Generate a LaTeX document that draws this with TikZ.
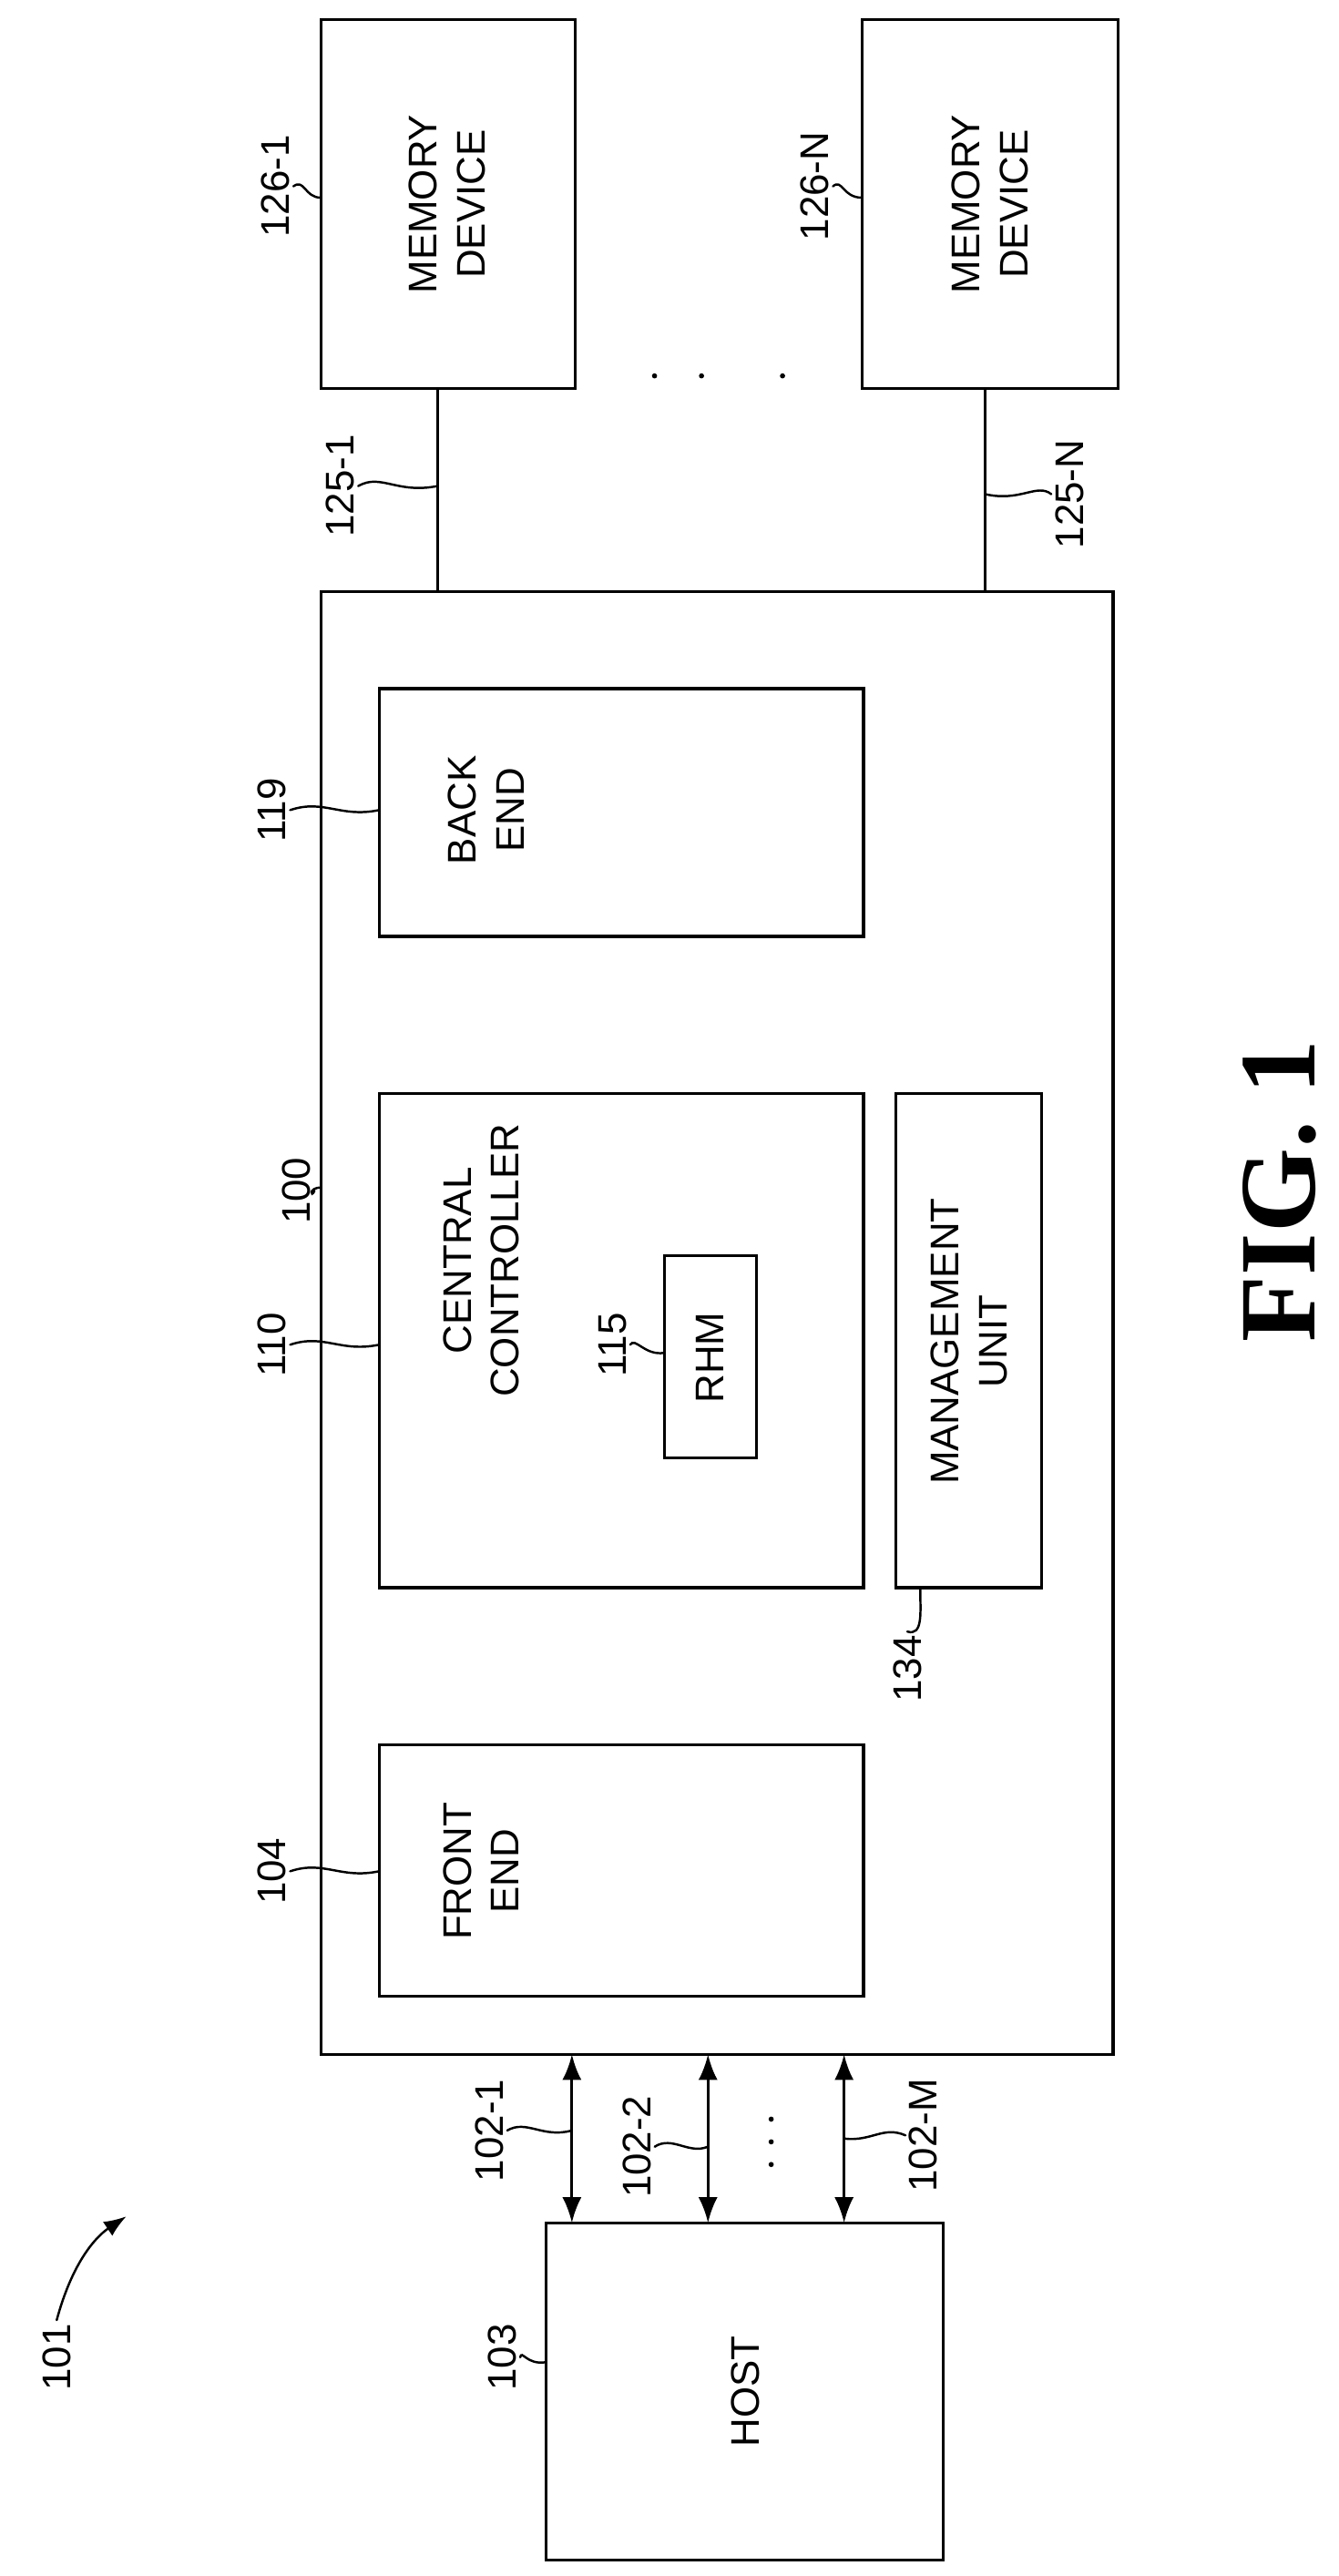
\documentclass[tikz,border=0pt]{standalone}
\usepackage{fontspec}
\setmainfont{Liberation Sans}
\newfontfamily\figfont{Liberation Serif}
\usetikzlibrary{positioning, arrows.meta}

\tikzset{
  blk/.style={draw, line width=0.9pt},
  txt/.style={rotate=90, align=center, font=\fontsize{12.5}{15}\selectfont},
  num/.style={rotate=90, font=\fontsize{12.5}{15}\selectfont, inner sep=1pt},
  lead/.style={line width=0.7pt},
  bus/.style={line width=0.9pt, {Latex[length=8pt]}-{Latex[length=8pt]}}
}

\begin{document}
\begin{tikzpicture}[x=0.0178cm, y=-0.0178cm, line cap=round]
  \useasboundingbox (0,0) rectangle (826,1590);

  % memory devices
  \draw[blk] (198,12) rectangle (355,240);
  \node[txt] (mem1) at (276,126) {MEMORY\\DEVICE};
  \draw[blk] (532,12) rectangle (690,240);
  \node[txt] (memN) at (611,126) {MEMORY\\DEVICE};
  \node[num] (l1261) at (170,115) {126-1};
  \draw[lead] (l1261.south) .. controls (188,110) and (188,122) .. (198,122);
  \node[num] (l126N) at (503,115) {126-N};
  \draw[lead] (l126N.south) .. controls (520,110) and (520,122) .. (532,122);
  \foreach \x in {404,433,483} \fill (\x,232) circle (1.6);

  % channels to memory
  \coordinate (c1t) at (270,240); \coordinate (c1b) at (270,365);
  \coordinate (cNt) at (608,240); \coordinate (cNb) at (608,365);
  \draw[blk] (c1t) -- (c1b);
  \draw[blk] (cNt) -- (cNb);
  \node[num] (l1251) at (210,300) {125-1};
  \draw[lead] (l1251.south) .. controls (235,292) and (245,305) .. (270,300);
  \node[num] (l125N) at (660,305) {125-N};
  \draw[lead] (l125N.north) .. controls (640,298) and (630,310) .. (608,305);

  % controller
  \draw[blk] (198,365) rectangle (687,1268);
  \node[num] (l100) at (183,735) {100};
  \draw[lead] (l100.south) .. controls (192,740) and (190,733) .. (198,733);

  \draw[blk] (234,425) rectangle (533,578);
  \node[txt] (back) at (300,500) {BACK\\END};
  \node[num] (l119) at (168,500) {119};
  \draw[lead] (l119.south) .. controls (200,493) and (210,505) .. (234,500);

  \draw[blk] (234,675) rectangle (533,980);
  \node[txt] (cc) at (297,778) {CENTRAL\\CONTROLLER};
  \node[num] (l110) at (168,830) {110};
  \draw[lead] (l110.south) .. controls (200,823) and (210,835) .. (234,830);

  \draw[blk] (410,775) rectangle (467,900);
  \node[txt] (rhm) at (438,838) {RHM};
  \node[num] (l115) at (378,830) {115};
  \draw[lead] (l115.south) .. controls (392,825) and (398,837) .. (410,835);

  \draw[blk] (553,675) rectangle (643,980);
  \node[txt] (mgmt) at (598,828) {MANAGEMENT\\UNIT};
  \node[num] (l134) at (560,1030) {134};
  \draw[lead] (l134.east) .. controls (570,1010) and (568,995) .. (568,980);

  \draw[blk] (234,1077) rectangle (533,1232);
  \node[txt] (front) at (297,1155) {FRONT\\END};
  \node[num] (l104) at (168,1155) {104};
  \draw[lead] (l104.south) .. controls (200,1148) and (210,1160) .. (234,1155);

  % host and buses
  \draw[blk] (337,1372) rectangle (582,1580);
  \node[txt] (host) at (460,1476) {HOST};
  \node[num] (l103) at (310,1455) {103};
  \draw[lead] (l103.south) .. controls (322,1450) and (325,1460) .. (337,1458);

  \foreach \x/\n in {353/1,437/2,521/M} {
    \coordinate (bt\n) at (\x,1268);
    \coordinate (bb\n) at (\x,1372);
    \draw[bus] (bt\n) -- (bb\n);
  }
  \node[num] (l1021) at (302,1315) {102-1};
  \draw[lead] (l1021.south) .. controls (325,1308) and (335,1320) .. (353,1315);
  \node[num] (l1022) at (393,1325) {102-2};
  \draw[lead] (l1022.south) .. controls (415,1318) and (425,1330) .. (437,1325);
  \node[num] (l102M) at (570,1318) {102-M};
  \draw[lead] (l102M.north) .. controls (545,1312) and (538,1322) .. (521,1320);
  \foreach \y in {1308,1322,1336} \fill (476,\y) circle (1.6);

  % figure ref
  \node[num] (l101) at (35,1455) {101};
  \draw[lead, -{Latex[length=7pt]}] (l101.east) .. controls (45,1395) and (60,1380) .. (78,1368);

  \node[rotate=90, font=\figfont\bfseries\fontsize{34}{40}\selectfont] (fig) at (790,735) {FIG. 1};
\end{tikzpicture}
\end{document}
